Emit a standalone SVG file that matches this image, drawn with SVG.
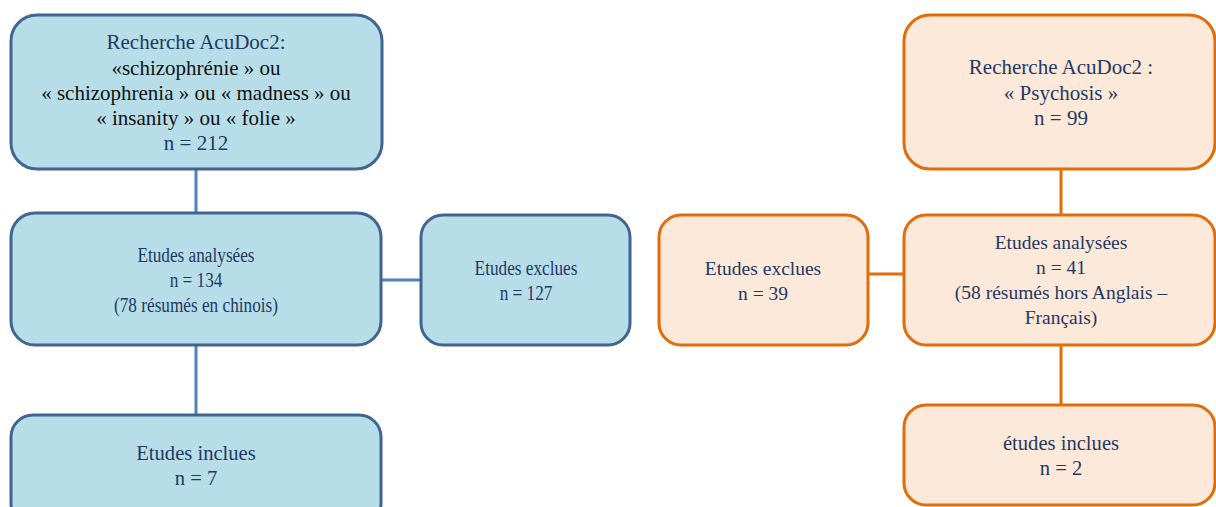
<svg xmlns="http://www.w3.org/2000/svg" width="1216" height="507" viewBox="0 0 1216 507">
<style>
.b rect{fill:#B7DDE8;stroke:#3F6590;stroke-width:3}
.o rect{fill:#FDE9D9;stroke:#E36C0A;stroke-width:3}
text{font-family:"Liberation Serif","Times New Roman",serif;font-size:18px;fill:#1F3864;text-anchor:middle}
text .k{fill:#111111}
#n1 text,#n5 text{font-size:21px}
#n2 text,#n3 text{font-size:20.5px}
#n4 text,#n8 text{font-size:20.6px}
#n6 text,#n7 text{font-size:19.5px}
.cb{stroke:#4F81BD;stroke-width:3;fill:none}
.co{stroke:#E36C0A;stroke-width:3;fill:none}
</style>
<rect width="1216" height="507" fill="#FFFFFF"/>
<g id="connectors">
<path class="cb" d="M196 169V213M196 345V415M381 280H421"/>
<path class="co" d="M1061 169V215M1061 345V405M868 274H904"/>
</g>
<g id="n1" class="b"><rect x="11" y="15" width="371" height="154" rx="26"/>
<text x="196" y="49">Recherche AcuDoc2:</text>
<text x="196" y="75"><tspan class="k">«schizophrénie » ou</tspan></text>
<text x="196" y="100"><tspan class="k">« schizophrenia » ou « madness » ou</tspan></text>
<text x="196" y="125"><tspan class="k">« insanity » ou « folie »</tspan></text>
<text x="196" y="150">n = 212</text></g>
<g id="n2" class="b"><rect x="11" y="213" width="370" height="132" rx="24"/>
<g transform="translate(196 0) scale(0.84 1)">
<text x="0" y="262">Etudes analysées</text>
<text x="0" y="287">n = 134</text>
<text x="0" y="312">(78 résumés en chinois)</text></g></g>
<g id="n3" class="b"><rect x="421" y="215" width="209" height="130" rx="22"/>
<g transform="translate(526 0) scale(0.84 1)">
<text x="0" y="275">Etudes exclues</text>
<text x="0" y="300">n = 127</text></g></g>
<g id="n4" class="b"><rect x="11" y="415" width="370" height="110" rx="22"/>
<text x="196" y="460">Etudes inclues</text>
<text x="196" y="485">n = 7</text></g>
<g id="n5" class="o"><rect x="904" y="15" width="311" height="154" rx="26"/>
<text x="1061" y="74">Recherche AcuDoc2 :</text>
<text x="1061" y="100">« Psychosis »</text>
<text x="1061" y="125">n = 99</text></g>
<g id="n6" class="o"><rect x="904" y="215" width="311" height="130" rx="22"/>
<text x="1061" y="249">Etudes analysées</text>
<text x="1061" y="274">n = 41</text>
<text x="1061" y="299">(58 résumés hors Anglais –</text>
<text x="1061" y="324">Français)</text></g>
<g id="n7" class="o"><rect x="659" y="215" width="209" height="130" rx="22"/>
<text x="763" y="275">Etudes exclues</text>
<text x="763" y="300">n = 39</text></g>
<g id="n8" class="o"><rect x="904" y="405" width="311" height="100" rx="22"/>
<text x="1061" y="450">études inclues</text>
<text x="1061" y="475">n = 2</text></g>
</svg>
